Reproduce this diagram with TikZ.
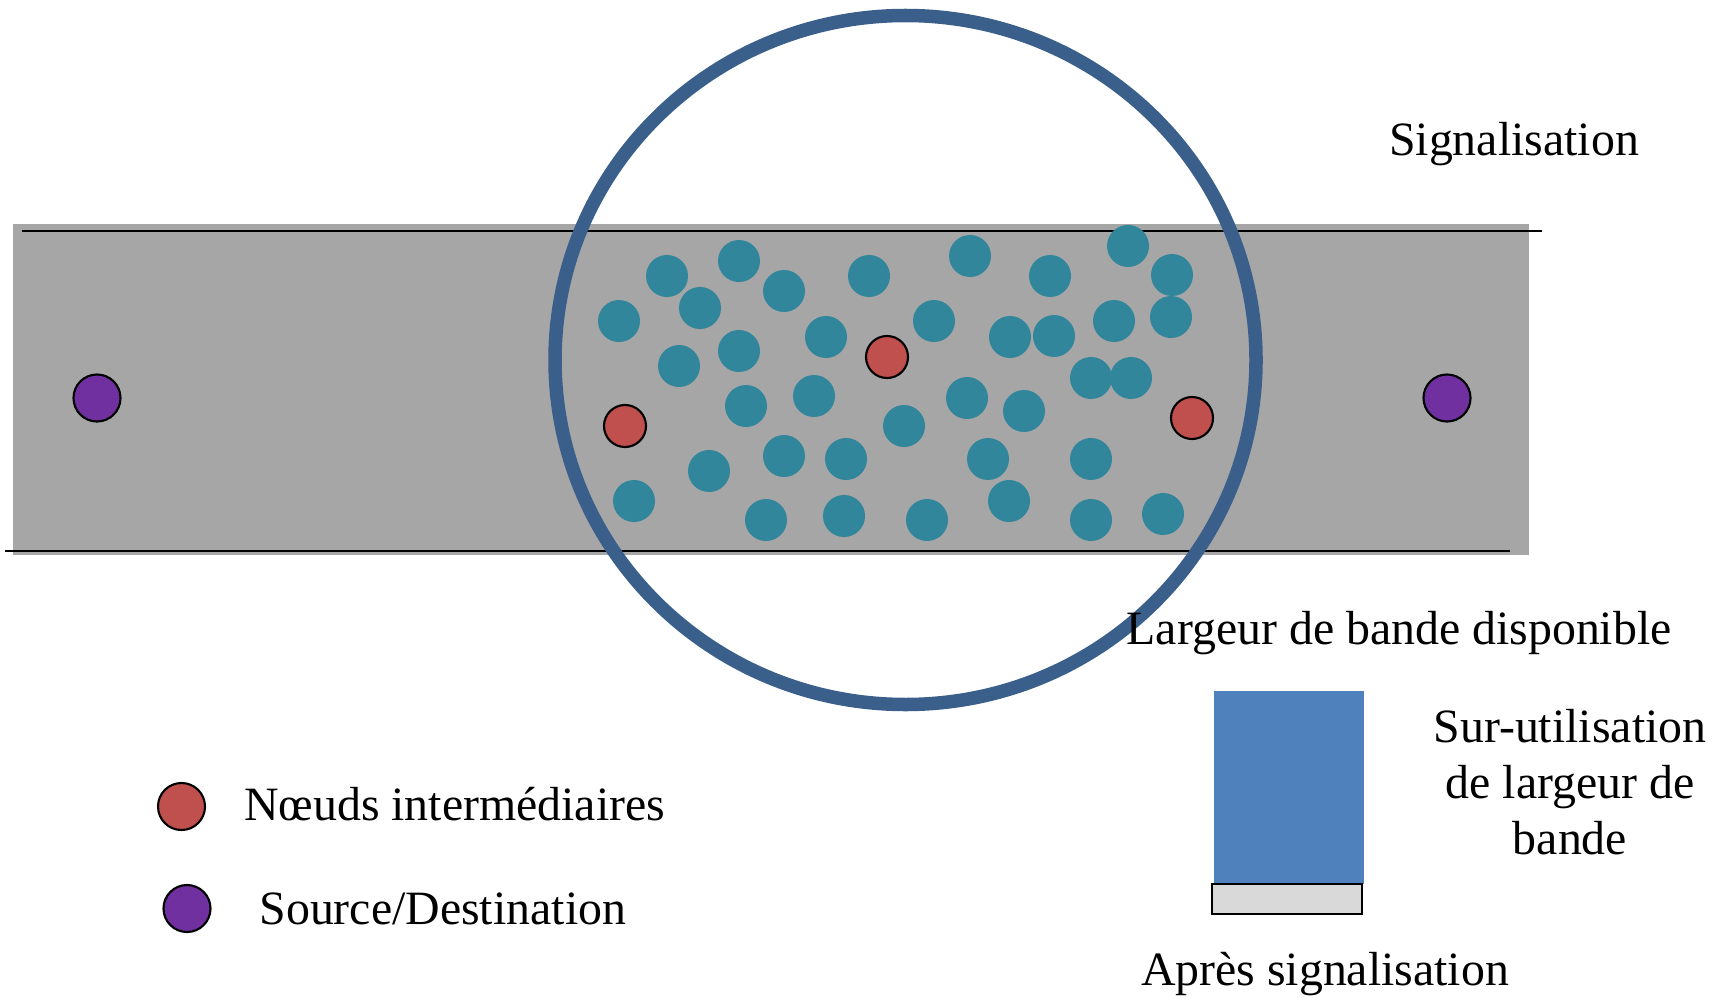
\documentclass[tikz,border=0pt]{standalone}
\usepackage{fontspec}
\setmainfont{Liberation Serif}
\usetikzlibrary{positioning}
\definecolor{bandgray}{HTML}{A6A6A6}
\definecolor{teal}{HTML}{31869B}
\definecolor{relayred}{HTML}{C0504D}
\definecolor{srcpurple}{HTML}{7030A0}
\definecolor{ringblue}{HTML}{3A5F8B}
\definecolor{barblue}{HTML}{4F81BD}
\definecolor{barlight}{HTML}{D9D9D9}
\newcommand{\lblfont}{\fontsize{13.6}{15.9}\selectfont}
\tikzset{
  mobile/.style={circle, fill=teal, minimum size=0.42cm, inner sep=0pt},
  relay/.style={circle, fill=relayred, draw=black, line width=0.6pt, minimum size=0.42cm, inner sep=0pt},
  endpoint/.style={circle, fill=srcpurple, draw=black, line width=0.6pt, minimum size=0.47cm, inner sep=0pt},
  lbl/.style={font=\lblfont, inner sep=0pt}
}

\begin{document}
\begin{tikzpicture}[x=0.01cm, y=-0.01cm]
  \useasboundingbox (0,0) rectangle (1725,997);
  % Band
  \fill[bandgray] (13,224) rectangle (1529,555);
  \draw[line width=0.6pt] (22,231) -- (1542,231);
  \draw[line width=0.6pt] (5,551) -- (1510,551);
  % Signalisation zone
  \draw[ringblue, line width=0.135cm] (905.5,360) ellipse [x radius=350.5, y radius=344.5];
  % Mobile nodes
  \foreach \px/\py [count=\i] in {667/276, 739/261, 784/291, 700/308, 619/321,
      869/276, 970/256, 1050/276, 1128/246, 1172/275, 934/321, 826/337,
      1010/337, 1054/336, 1114/321, 1171/317, 679/366, 739/351, 1091/378,
      1131/378, 746/406, 814/396, 967/398, 1024/411, 904/426, 784/456,
      846/459, 988/459, 1091/459, 709/471, 634/501, 1009/501, 766/520,
      844/516, 927/520, 1091/520, 1163/514}
    \node[mobile] (m\i) at (\px,\py) {};
  % Relays
  \node[relay] (r1) at (625,426) {};
  \node[relay] (r2) at (887,357) {};
  \node[relay] (r3) at (1192,418) {};
  % Source and destination
  \node[endpoint] (src) at (97,398) {};
  \node[endpoint] (dst) at (1447,398) {};
  % Labels
  \node[lbl, anchor=base] (sig) at (1514,156) {Signalisation};
  \node[lbl, anchor=base west] (avail) at (1126,644) {Largeur de bande disponible};
  % Bandwidth bar
  \fill[barblue] (1214,691) rectangle (1364,884);
  \draw[fill=barlight, line width=0.8pt] (1212,884) rectangle (1362,914);
  \node[lbl, anchor=base, align=center] (over) at (1570,854)
    {Sur-utilisation\\de largeur de\\bande};
  \node[lbl, anchor=base] (after) at (1325,985) {Après signalisation};
  % Legend
  \node[relay, minimum size=0.47cm] (legR) at (181.5,806.5) {};
  \node[lbl, anchor=base west] (legRtxt) at (243.5,820.7) {Nœuds intermédiaires};
  \node[endpoint] (legP) at (187,908.5) {};
  \node[lbl, anchor=base west] (legPtxt) at (258.8,924) {Source/Destination};
\end{tikzpicture}
\end{document}
